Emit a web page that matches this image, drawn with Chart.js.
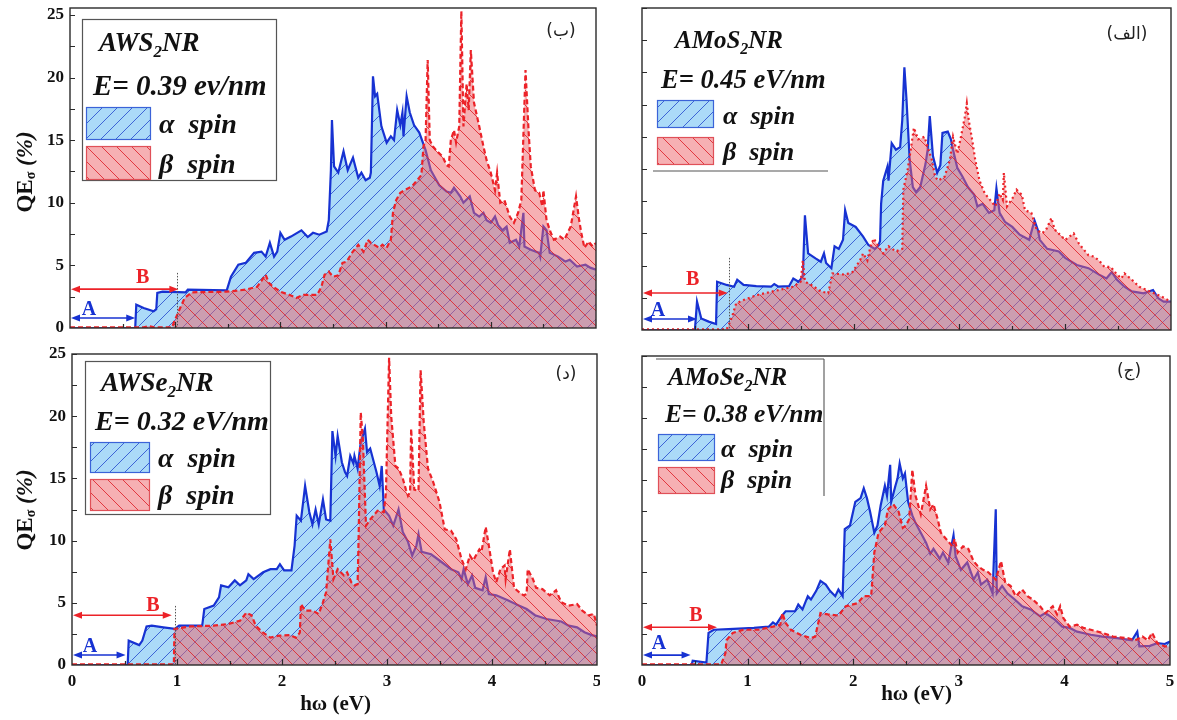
<!DOCTYPE html>
<html>
<head>
<meta charset="utf-8">
<script src="https://cdn.jsdelivr.net/npm/chart.js@4.4.0/dist/chart.umd.min.js"></script>
<style>
  body { margin: 0; background: #fff; width: 1177px; height: 720px; overflow: hidden; position: relative; }
  canvas { position: absolute; }
</style>
</head>
<body>
<canvas id="cTL" width="600" height="342" style="left:0;top:0"></canvas>
<canvas id="cTR" width="577" height="342" style="left:600px;top:0"></canvas>
<canvas id="cBL" width="600" height="378" style="left:0;top:342px"></canvas>
<canvas id="cBR" width="577" height="378" style="left:600px;top:342px"></canvas>
<script>
// ---- data: [photon energy (eV), QE (%)] ----
const awsAlpha = [[0,0],[0.62,0],[0.63,1.86],[0.7,1.6],[0.795,1.33],[0.82,1.5],[0.83,2.8],[0.88,2.9],[1.1,2.85],[1.12,3.06],[1.49,3.0],[1.53,4.1],[1.6,5.05],[1.67,5.2],[1.75,6.0],[1.82,6.1],[1.86,5.7],[1.9,6.8],[1.94,5.7],[1.97,6.1],[2.0,7.6],[2.04,7.05],[2.1,7.3],[2.2,7.8],[2.26,7.26],[2.31,7.6],[2.37,7.45],[2.44,7.7],[2.46,8.6],[2.48,12.6],[2.49,16.6],[2.51,12.9],[2.55,12.4],[2.6,14.1],[2.64,12.6],[2.69,13.6],[2.74,12.0],[2.77,12.4],[2.81,11.8],[2.85,12.0],[2.86,12.4],[2.88,20.1],[2.9,18.5],[2.92,18.7],[2.96,16.1],[3.01,14.8],[3.05,15.3],[3.08,15.0],[3.11,17.4],[3.14,16.2],[3.16,17.2],[3.17,15.3],[3.2,18.5],[3.23,17.2],[3.27,16.2],[3.32,15.6],[3.38,14.2],[3.43,12.6],[3.51,11.4],[3.58,10.9],[3.62,10.8],[3.65,11.2],[3.71,10.5],[3.74,10.0],[3.8,10.5],[3.84,9.2],[3.89,8.9],[3.93,9.2],[3.96,8.6],[4.0,8.4],[4.04,8.9],[4.07,8.2],[4.11,7.8],[4.15,8.1],[4.18,6.8],[4.24,7.05],[4.27,6.5],[4.31,9.2],[4.32,6.5],[4.38,6.25],[4.46,6.0],[4.47,5.7],[4.5,8.1],[4.53,7.8],[4.56,6.0],[4.64,5.7],[4.71,5.3],[4.75,5.45],[4.82,4.9],[4.9,5.05],[4.95,4.8],[5.0,4.65]];
const awsBeta = [[0,0.05],[0.7,0.05],[0.75,0.15],[0.8,0.05],[0.97,0.05],[0.99,0.5],[1.04,1.46],[1.09,2.4],[1.16,2.85],[1.49,2.9],[1.67,3.06],[1.78,3.3],[1.86,4.25],[1.89,3.6],[1.93,3.3],[2.0,2.9],[2.1,2.6],[2.15,2.4],[2.22,2.65],[2.35,2.65],[2.39,3.3],[2.42,4.25],[2.46,4.5],[2.5,4.1],[2.55,4.2],[2.59,5.2],[2.63,5.3],[2.68,6.0],[2.74,6.65],[2.79,6.1],[2.83,7.05],[2.86,6.8],[2.94,6.4],[2.97,6.65],[3.01,6.4],[3.05,7.05],[3.07,9.2],[3.1,10.2],[3.14,10.8],[3.18,11.0],[3.25,11.3],[3.3,11.8],[3.34,12.2],[3.36,14.5],[3.38,15.0],[3.4,21.4],[3.42,15.0],[3.45,14.5],[3.49,14.1],[3.54,13.7],[3.58,13.0],[3.6,12.9],[3.62,15.0],[3.65,15.8],[3.67,14.8],[3.7,16.1],[3.72,25.3],[3.74,16.1],[3.77,19.5],[3.79,17.4],[3.81,22.2],[3.84,18.0],[3.89,16.1],[3.93,14.5],[3.96,13.4],[4.0,12.4],[4.04,11.0],[4.06,12.4],[4.09,10.0],[4.13,10.2],[4.18,8.9],[4.22,8.4],[4.26,9.2],[4.29,10.2],[4.33,20.6],[4.36,15.6],[4.38,12.9],[4.42,11.0],[4.46,10.8],[4.49,9.7],[4.5,11.0],[4.53,8.6],[4.57,7.6],[4.6,7.05],[4.66,7.3],[4.7,7.05],[4.73,7.6],[4.76,8.1],[4.81,10.5],[4.84,8.6],[4.86,7.6],[4.89,6.4],[4.93,6.9],[4.97,6.5],[5.0,6.8]];

const amosAlpha = [[0,0],[0.5,0],[0.52,2.2],[0.56,0.9],[0.63,0.65],[0.7,0.47],[0.71,3.75],[0.8,3.5],[0.87,3.36],[0.9,3.9],[0.96,3.5],[1.08,3.4],[1.22,3.36],[1.25,3.57],[1.29,3.36],[1.39,3.4],[1.43,4.0],[1.48,3.75],[1.52,4.14],[1.54,8.9],[1.57,5.95],[1.64,5.56],[1.69,5.3],[1.72,5.95],[1.74,5.2],[1.79,4.8],[1.82,6.5],[1.86,6.3],[1.9,7.0],[1.92,9.3],[1.95,8.3],[2.02,8.0],[2.09,7.25],[2.14,6.6],[2.2,6.3],[2.23,6.5],[2.25,6.9],[2.26,9.8],[2.28,11.6],[2.32,12.7],[2.33,11.6],[2.36,14.5],[2.4,14.0],[2.44,14.2],[2.46,16.3],[2.48,20.4],[2.5,17.9],[2.53,13.2],[2.56,11.1],[2.59,10.7],[2.63,11.1],[2.68,12.9],[2.7,14.0],[2.72,16.6],[2.75,13.5],[2.79,12.2],[2.82,12.8],[2.84,15.3],[2.89,15.4],[2.92,14.8],[2.94,14.0],[2.98,12.6],[3.03,11.9],[3.08,11.1],[3.14,10.5],[3.17,9.6],[3.22,9.8],[3.28,9.1],[3.33,9.3],[3.35,11.0],[3.38,9.1],[3.43,8.4],[3.5,8.0],[3.57,7.4],[3.66,7.0],[3.71,8.5],[3.74,7.8],[3.76,7.0],[3.83,6.3],[3.94,6.1],[4.0,5.6],[4.11,5.05],[4.22,4.8],[4.32,4.3],[4.39,4.0],[4.44,4.5],[4.49,3.9],[4.56,3.36],[4.63,3.0],[4.74,2.85],[4.83,3.1],[4.88,2.46],[4.93,2.2],[5.0,2.2]];
const amosBeta = [[0,0.05],[0.8,0.05],[0.82,0.4],[0.85,1.0],[0.89,2.07],[0.96,2.33],[1.08,2.7],[1.29,3.1],[1.43,3.36],[1.5,3.75],[1.52,5.4],[1.54,3.75],[1.6,3.5],[1.69,3.0],[1.76,2.85],[1.8,4.4],[1.92,4.3],[1.99,4.5],[2.06,5.4],[2.09,5.95],[2.13,5.4],[2.16,6.5],[2.19,7.1],[2.25,6.3],[2.28,5.95],[2.33,6.5],[2.4,6.1],[2.46,6.3],[2.47,10.9],[2.51,12.4],[2.54,14.0],[2.57,15.7],[2.61,14.8],[2.67,15.0],[2.7,14.2],[2.74,13.2],[2.77,11.9],[2.8,11.6],[2.86,11.9],[2.91,13.2],[2.94,15.0],[2.98,13.7],[3.01,14.8],[3.05,16.5],[3.07,17.6],[3.09,16.2],[3.12,14.8],[3.15,13.2],[3.19,11.6],[3.24,10.6],[3.29,10.1],[3.34,9.6],[3.38,10.6],[3.41,10.1],[3.42,12.2],[3.45,9.6],[3.5,10.2],[3.54,10.9],[3.59,10.5],[3.62,9.3],[3.68,9.1],[3.73,7.8],[3.78,7.5],[3.82,7.8],[3.87,8.7],[3.9,7.8],[3.95,7.4],[4.0,7.0],[4.08,7.5],[4.13,6.7],[4.18,6.2],[4.22,5.8],[4.27,5.7],[4.32,5.4],[4.37,4.9],[4.43,4.9],[4.48,4.4],[4.53,4.0],[4.56,4.4],[4.63,3.9],[4.7,3.36],[4.77,3.1],[4.84,2.85],[4.91,2.6],[5.0,2.2]];

const awseAlpha = [[0,0],[0.53,0],[0.54,1.96],[0.64,1.6],[0.67,1.96],[0.71,3.1],[0.76,3.16],[0.87,3.03],[0.98,2.9],[1.02,3.16],[1.24,3.16],[1.26,4.5],[1.35,4.77],[1.4,5.44],[1.42,6.4],[1.49,6.25],[1.55,6.8],[1.6,6.4],[1.66,6.8],[1.68,7.3],[1.73,6.9],[1.82,7.45],[1.89,7.7],[1.95,7.7],[1.98,8.1],[2.02,7.6],[2.09,7.6],[2.12,9.6],[2.14,12.0],[2.18,11.6],[2.22,14.4],[2.26,12.3],[2.29,11.3],[2.32,12.5],[2.35,11.3],[2.39,13.3],[2.42,11.7],[2.46,11.6],[2.48,18.8],[2.51,16.8],[2.53,18.4],[2.57,16.3],[2.6,15.5],[2.62,15.2],[2.65,16.8],[2.68,16.2],[2.69,16.8],[2.72,15.8],[2.75,17.9],[2.79,19.0],[2.81,17.1],[2.84,17.4],[2.9,15.5],[2.93,14.4],[2.95,16.0],[2.97,12.5],[3.02,12.0],[3.06,11.2],[3.11,12.5],[3.15,10.7],[3.2,9.9],[3.24,8.8],[3.28,9.6],[3.3,10.5],[3.33,9.1],[3.42,8.9],[3.5,8.4],[3.61,7.7],[3.68,7.45],[3.71,6.9],[3.73,7.7],[3.77,6.5],[3.81,7.2],[3.84,6.2],[3.91,6.0],[3.94,7.05],[3.97,5.7],[4.04,5.6],[4.15,5.2],[4.26,4.77],[4.33,4.5],[4.41,4.0],[4.52,3.7],[4.66,3.5],[4.73,3.16],[4.81,3.03],[4.88,2.63],[4.95,2.4],[5.0,2.3]];
const awseBeta = [[0,0.05],[0.97,0.05],[0.976,2.9],[1.13,3.1],[1.35,3.16],[1.49,3.3],[1.6,3.56],[1.66,4.2],[1.71,4.0],[1.75,3.16],[1.82,2.6],[1.89,2.2],[1.97,2.36],[2.08,2.4],[2.13,2.2],[2.17,2.6],[2.18,4.9],[2.22,4.37],[2.29,4.37],[2.35,4.1],[2.39,5.04],[2.42,5.84],[2.46,10.1],[2.49,6.9],[2.53,7.7],[2.59,7.2],[2.62,7.45],[2.66,6.65],[2.69,6.4],[2.72,6.5],[2.73,10.4],[2.75,20.3],[2.77,18.2],[2.8,11.2],[2.84,11.7],[2.91,12.4],[2.97,12.3],[2.99,13.9],[3.02,24.7],[3.04,20.0],[3.08,16.0],[3.11,15.8],[3.15,15.0],[3.18,14.1],[3.2,13.6],[3.22,13.9],[3.23,19.0],[3.26,14.1],[3.3,14.0],[3.32,23.7],[3.35,19.5],[3.39,15.8],[3.44,14.7],[3.5,13.1],[3.55,10.9],[3.61,10.8],[3.66,10.1],[3.71,8.5],[3.75,7.7],[3.79,8.8],[3.82,8.4],[3.88,9.3],[3.9,9.1],[3.94,11.1],[3.97,9.6],[4.01,7.45],[4.04,6.65],[4.08,7.7],[4.12,8.0],[4.13,6.9],[4.17,9.3],[4.21,6.2],[4.26,5.84],[4.3,5.6],[4.33,5.7],[4.34,7.7],[4.39,6.9],[4.42,6.2],[4.48,6.1],[4.55,5.6],[4.61,6.0],[4.66,5.04],[4.73,4.77],[4.81,4.9],[4.86,4.37],[4.92,4.0],[4.97,4.1],[5.0,3.16]];

const amoseAlpha = [[0,0],[0.47,0],[0.48,0.35],[0.61,0.2],[0.63,2.6],[0.68,2.85],[0.82,2.9],[1.06,3.0],[1.2,3.1],[1.24,3.45],[1.27,3.26],[1.32,3.94],[1.36,4.35],[1.45,4.35],[1.48,4.9],[1.52,4.5],[1.57,5.57],[1.6,5.3],[1.65,6.0],[1.69,6.8],[1.74,6.5],[1.78,6.0],[1.83,5.57],[1.86,6.1],[1.9,5.57],[1.92,11.0],[1.97,11.3],[2.02,13.2],[2.07,13.5],[2.1,14.3],[2.13,13.5],[2.16,12.4],[2.2,10.7],[2.23,11.3],[2.26,12.9],[2.3,14.5],[2.32,13.7],[2.35,16.2],[2.36,13.2],[2.4,14.5],[2.42,15.1],[2.44,16.3],[2.47,15.1],[2.49,15.5],[2.52,13.2],[2.56,12.1],[2.59,11.5],[2.64,10.7],[2.69,9.9],[2.73,9.0],[2.76,9.4],[2.82,8.6],[2.85,9.1],[2.9,8.3],[2.95,10.5],[2.97,8.8],[3.02,7.7],[3.08,8.3],[3.14,6.9],[3.18,7.5],[3.21,6.5],[3.27,6.9],[3.32,5.8],[3.35,12.6],[3.36,5.8],[3.41,6.4],[3.46,5.8],[3.53,5.3],[3.6,4.75],[3.68,4.5],[3.77,3.94],[3.82,4.2],[3.91,3.67],[3.98,3.1],[4.05,3.0],[4.12,2.7],[4.25,2.45],[4.36,2.3],[4.5,2.17],[4.64,2.0],[4.69,2.7],[4.71,1.5],[4.81,1.55],[4.88,1.77],[4.95,1.7],[5.0,1.9]];
const amoseBeta = [[0,0.05],[0.75,0.05],[0.79,0.95],[0.8,2.0],[0.86,2.6],[0.96,2.85],[1.1,2.85],[1.24,3.1],[1.31,3.26],[1.33,4.2],[1.36,3.4],[1.41,2.85],[1.5,2.45],[1.6,2.17],[1.64,2.3],[1.69,4.2],[1.76,4.1],[1.86,4.0],[1.93,4.75],[2.04,5.0],[2.1,5.57],[2.17,5.57],[2.2,9.1],[2.24,10.7],[2.3,11.3],[2.33,12.6],[2.38,13.0],[2.43,12.4],[2.47,11.1],[2.5,11.3],[2.53,11.8],[2.56,15.8],[2.59,13.7],[2.64,12.2],[2.69,14.5],[2.73,12.6],[2.76,13.0],[2.8,11.8],[2.83,10.7],[2.88,10.2],[2.94,9.6],[2.96,10.2],[2.99,9.1],[3.04,9.6],[3.09,9.4],[3.14,8.4],[3.18,8.0],[3.23,7.7],[3.28,7.5],[3.35,6.9],[3.4,8.4],[3.44,6.65],[3.49,6.4],[3.54,5.57],[3.6,6.1],[3.65,5.57],[3.7,5.3],[3.77,4.75],[3.82,4.2],[3.89,4.75],[3.93,4.1],[3.96,4.75],[3.99,3.8],[4.05,3.1],[4.12,3.26],[4.18,3.0],[4.25,2.85],[4.36,2.6],[4.46,2.3],[4.6,2.17],[4.67,2.0],[4.74,2.3],[4.79,2.0],[4.83,2.6],[4.88,1.77],[4.95,1.5],[5.0,1.5]];

const xTickLabels = [0, 1, 2, 3, 4, 5];
const yTickLabels = [0, 5, 10, 15, 20, 25];
const alphaLabel = 'α  spin';
const betaLabel = 'β  spin';

const BLUE = '#1732d2';
const RED = '#ec2228';
const SERIF = '"Liberation Serif", "DejaVu Serif", serif';

// hatch tile: dir 1 = "/", dir -1 = "\"
function hatchTile(bg, line, dir) {
  const s = 15;
  const c = document.createElement('canvas');
  c.width = c.height = s;
  const g = c.getContext('2d');
  g.fillStyle = bg;
  g.fillRect(0, 0, s, s);
  g.strokeStyle = line;
  g.lineWidth = 1;
  g.beginPath();
  if (dir > 0) {
    g.moveTo(0, s); g.lineTo(s, 0);
    g.moveTo(-1, 1); g.lineTo(1, -1);
    g.moveTo(s - 1, s + 1); g.lineTo(s + 1, s - 1);
  } else {
    g.moveTo(0, 0); g.lineTo(s, s);
    g.moveTo(s - 1, -1); g.lineTo(s + 1, 1);
    g.moveTo(-1, s - 1); g.lineTo(1, s + 1);
  }
  g.stroke();
  return c;
}

// text with one subscript run, e.g. [['AWS',0],['2',1],['NR',0]]
function drawParts(ctx, parts, x, y, size, style) {
  for (const [t, sub] of parts) {
    const fs = sub ? Math.round(size * 0.62) : size;
    ctx.font = `${style} ${fs}px ${SERIF}`;
    ctx.fillText(t, x, sub ? y + size * 0.22 : y);
    x += ctx.measureText(t).width;
  }
  return x;
}
function partsWidth(ctx, parts, size, style) {
  let w = 0;
  for (const [t, sub] of parts) {
    ctx.font = `${style} ${sub ? Math.round(size * 0.62) : size}px ${SERIF}`;
    w += ctx.measureText(t).width;
  }
  return w;
}

function arrow(ctx, x1, x2, y, color) {
  ctx.strokeStyle = color; ctx.fillStyle = color; ctx.lineWidth = 1.6;
  ctx.beginPath(); ctx.moveTo(x1 + 4, y); ctx.lineTo(x2 - 4, y); ctx.stroke();
  for (const [tip, d] of [[x1, 1], [x2, -1]]) {
    ctx.beginPath();
    ctx.moveTo(tip, y);
    ctx.lineTo(tip + d * 9, y - 3.5);
    ctx.lineTo(tip + d * 9, y + 3.5);
    ctx.closePath(); ctx.fill();
  }
}

// axes frame, inward ticks, labels, legend and annotations for one panel
function panelDeco(p) {
  return {
    id: 'panelDeco',
    afterDatasetsDraw(chart) {
      const { ctx, chartArea: a, scales: { x, y } } = chart;
      ctx.save();
      // frame
      ctx.strokeStyle = '#2a2a2a';
      ctx.lineWidth = 1.4;
      ctx.strokeRect(a.left, a.top, a.right - a.left, a.bottom - a.top);
      // x ticks every 0.5
      ctx.lineWidth = 1.2;
      ctx.beginPath();
      for (let v = 0.5; v < 5; v += 0.5) {
        const px = Math.round(x.getPixelForValue(v)) + 0.5;
        const len = Number.isInteger(v) ? 6 : 4;
        ctx.moveTo(px, a.bottom); ctx.lineTo(px, a.bottom - len);
      }
      // y ticks every 2.5
      for (let v = 2.5; v <= 25; v += 2.5) {
        const py = Math.round(y.getPixelForValue(v)) + 0.5;
        ctx.moveTo(a.left, py); ctx.lineTo(a.left + 5, py);
      }
      ctx.stroke();

      ctx.fillStyle = '#111';
      ctx.font = `bold 17px ${SERIF}`;
      if (p.yLabels) {
        ctx.textAlign = 'right'; ctx.textBaseline = 'middle';
        yTickLabels.forEach(v => ctx.fillText(String(v), a.left - 6, y.getPixelForValue(v)));
      }
      if (p.xLabels) {
        ctx.textAlign = 'center'; ctx.textBaseline = 'middle';
        xTickLabels.forEach(v => ctx.fillText(String(v), x.getPixelForValue(v), a.bottom + 17));
        ctx.font = `bold 21px ${SERIF}`;
        ctx.fillText('hω (eV)', x.getPixelForValue(p.xTitleAt), a.bottom + p.xTitleDy);
      }
      if (p.yTitleY) {
        ctx.save();
        ctx.translate(26, p.yTitleY);
        ctx.rotate(-Math.PI / 2);
        ctx.textAlign = 'left'; ctx.textBaseline = 'middle';
        const parts = [['QE', 0], ['σ', 1]];
        const w1 = partsWidth(ctx, parts, 23, 'bold');
        ctx.font = `italic bold 23px ${SERIF}`;
        const w2 = ctx.measureText(' (%)').width;
        let cx = drawParts(ctx, parts, -(w1 + w2) / 2, 0, 23, 'bold');
        ctx.font = `italic bold 23px ${SERIF}`;
        ctx.fillText(' (%)', cx, 0);
        ctx.restore();
      }

      // A / B range arrows
      ctx.textAlign = 'center'; ctx.textBaseline = 'middle';
      const x0 = x.getPixelForValue(0);
      if (p.dotX !== undefined) {
        ctx.save();
        ctx.strokeStyle = '#555'; ctx.lineWidth = 1; ctx.setLineDash([1.5, 1.5]);
        const dx = Math.round(x.getPixelForValue(p.dotX)) + 0.5;
        ctx.beginPath(); ctx.moveTo(dx, y.getPixelForValue(p.dotY)); ctx.lineTo(dx, a.bottom); ctx.stroke();
        ctx.restore();
      }
      arrow(ctx, x0 + 1, x.getPixelForValue(p.bEnd), y.getPixelForValue(p.bY), RED);
      arrow(ctx, x0 + 1, x.getPixelForValue(p.aEnd), y.getPixelForValue(p.aY), BLUE);
      ctx.font = `bold 20px ${SERIF}`;
      ctx.fillStyle = RED;
      ctx.fillText('B', x.getPixelForValue(p.bLab[0]), y.getPixelForValue(p.bLab[1]));
      ctx.fillStyle = BLUE;
      ctx.fillText('A', x.getPixelForValue(p.aLab[0]), y.getPixelForValue(p.aLab[1]));

      // panel tag
      ctx.fillStyle = '#222';
      ctx.font = '17px "DejaVu Sans", sans-serif';
      ctx.fillText(p.tag, p.tagPos[0], p.tagPos[1]);

      // legend
      const L = p.legend;
      ctx.textAlign = 'left'; ctx.textBaseline = 'alphabetic';
      if (L.box) {
        ctx.fillStyle = '#fff';
        ctx.fillRect(L.box[0], L.box[1], L.box[2] - L.box[0], L.box[3] - L.box[1]);
        ctx.strokeStyle = '#555'; ctx.lineWidth = 1.2;
        ctx.strokeRect(L.box[0] + 0.5, L.box[1] + 0.5, L.box[2] - L.box[0], L.box[3] - L.box[1]);
      }
      if (L.lines) {
        ctx.strokeStyle = '#555'; ctx.lineWidth = 1.1;
        ctx.beginPath();
        L.lines.forEach(l => { ctx.moveTo(l[0], l[1]); ctx.lineTo(l[2], l[3]); });
        ctx.stroke();
      }
      ctx.fillStyle = '#111';
      drawParts(ctx, L.title, L.titlePos[0], L.titlePos[1], L.size, 'italic bold');
      ctx.font = `italic bold ${L.eSize}px ${SERIF}`;
      ctx.fillText(L.eText, L.ePos[0], L.ePos[1]);
      const sw = [[L.swA, chart.$patA, '#3b63d8'], [L.swB, chart.$patB, '#e05058']];
      sw.forEach(([r, pat, edge]) => {
        ctx.fillStyle = '#fff';
        ctx.fillRect(r[0], r[1], r[2] - r[0], r[3] - r[1]);
        ctx.fillStyle = pat;
        ctx.fillRect(r[0], r[1], r[2] - r[0], r[3] - r[1]);
        ctx.strokeStyle = edge; ctx.lineWidth = 1.2;
        ctx.strokeRect(r[0] + 0.5, r[1] + 0.5, r[2] - r[0] - 1, r[3] - r[1] - 1);
      });
      ctx.fillStyle = '#111';
      ctx.font = `italic bold ${L.size + 1}px ${SERIF}`;
      ctx.fillText(alphaLabel, L.txA[0], L.txA[1]);
      ctx.fillText(betaLabel, L.txB[0], L.txB[1]);
      ctx.restore();
    }
  };
}

function makePanel(p) {
  const canvas = document.getElementById(p.id);
  const ctx = canvas.getContext('2d');
  const patA = ctx.createPattern(hatchTile('#abdaf8', '#3d64d6', 1), 'repeat');
  const patB = ctx.createPattern(hatchTile('rgba(238,98,104,0.5)', 'rgba(222,34,44,0.85)', -1), 'repeat');
  const chart = new Chart(ctx, {
    type: 'line',
    data: {
      datasets: [
        { label: alphaLabel, data: p.alpha, borderColor: BLUE, borderWidth: 2.2,
          backgroundColor: patA, fill: 'origin', order: 2, pointRadius: 0, tension: 0 },
        { label: betaLabel, data: p.beta, borderColor: RED, borderWidth: 2.2, borderDash: p.dash,
          backgroundColor: patB, fill: 'origin', order: 1, pointRadius: 0, tension: 0 }
      ]
    },
    options: {
      responsive: false,
      animation: false,
      devicePixelRatio: 1,
      layout: { padding: p.pad },
      scales: {
        x: { type: 'linear', min: 0, max: 5, display: false },
        y: { type: 'linear', min: 0, max: p.yMax, display: false }
      },
      plugins: { legend: { display: false }, tooltip: { enabled: false } }
    },
    plugins: [panelDeco(p)]
  });
  chart.$patA = patA;
  chart.$patB = patB;
  chart.draw();
  return chart;
}

makePanel({
  id: 'cTL', alpha: awsAlpha, beta: awsBeta, dash: [5, 3],
  pad: { left: 70, top: 8, right: 4, bottom: 14 }, yMax: 25.55,
  yLabels: true, xLabels: false, yTitleY: 172,
  bEnd: 1.03, bY: 3.1, bLab: [0.69, 4.0], aEnd: 0.62, aY: 0.8, aLab: [0.18, 1.45],
  dotX: 1.02, dotY: 4.4,
  tag: '(ب)', tagPos: [561, 32],
  legend: {
    box: [82, 19, 276, 180], size: 27, eSize: 29,
    title: [['AWS', 0], ['2', 1], ['NR', 0]], titlePos: [99, 51],
    eText: 'E= 0.39 ev/nm', ePos: [93, 95],
    swA: [86, 107, 151, 140], txA: [159, 133],
    swB: [86, 146, 151, 180], txB: [159, 173]
  }
});

makePanel({
  id: 'cTR', alpha: amosAlpha, beta: amosBeta, dash: [2, 3],
  pad: { left: 42, top: 8, right: 6, bottom: 12 }, yMax: 25,
  yLabels: false, xLabels: false,
  bEnd: 0.81, bY: 2.87, bLab: [0.48, 3.9], aEnd: 0.52, aY: 0.85, aLab: [0.15, 1.5],
  dotX: 0.82, dotY: 5.6,
  tag: '(الف)', tagPos: [527, 35],
  legend: {
    size: 25, eSize: 26.5, lines: [[53, 171, 228, 171]],
    title: [['AMoS', 0], ['2', 1], ['NR', 0]], titlePos: [75, 48],
    eText: 'E= 0.45 eV/nm', ePos: [61, 88],
    swA: [57, 100, 114, 128], txA: [123, 124],
    swB: [57, 137, 114, 165], txB: [123, 160]
  }
});

makePanel({
  id: 'cBL', alpha: awseAlpha, beta: awseBeta, dash: [5, 3],
  pad: { left: 72, top: 12, right: 3, bottom: 55 }, yMax: 25,
  yLabels: true, xLabels: true, xTitleAt: 2.51, xTitleDy: 40, yTitleY: 168,
  bEnd: 0.95, bY: 4.0, bLab: [0.77, 4.75], aEnd: 0.51, aY: 0.8, aLab: [0.17, 1.45],
  dotX: 0.98, dotY: 4.75,
  tag: '(د)', tagPos: [566, 33],
  legend: {
    box: [85, 19, 270, 172], size: 27, eSize: 28,
    title: [['AWSe', 0], ['2', 1], ['NR', 0]], titlePos: [101, 49],
    eText: 'E= 0.32 eV/nm', ePos: [95, 88],
    swA: [90, 100, 150, 131], txA: [158, 125],
    swB: [90, 137, 150, 169], txB: [158, 162]
  }
});

makePanel({
  id: 'cBR', alpha: amoseAlpha, beta: amoseBeta, dash: [5, 3],
  pad: { left: 42, top: 14, right: 7, bottom: 55 }, yMax: 25,
  yLabels: false, xLabels: true, xTitleAt: 2.6, xTitleDy: 30,
  bEnd: 0.71, bY: 3.06, bLab: [0.51, 3.95], aEnd: 0.46, aY: 0.8, aLab: [0.16, 1.7],
  tag: '(ج)', tagPos: [529, 30],
  legend: {
    size: 25, eSize: 25.5, lines: [[56, 17, 224, 17], [224, 17, 224, 154]],
    title: [['AMoSe', 0], ['2', 1], ['NR', 0]], titlePos: [68, 43],
    eText: 'E= 0.38 eV/nm', ePos: [65, 80],
    swA: [58, 92, 115, 119], txA: [121, 115],
    swB: [58, 125, 115, 152], txB: [121, 146]
  }
});
</script>
</body>
</html>
